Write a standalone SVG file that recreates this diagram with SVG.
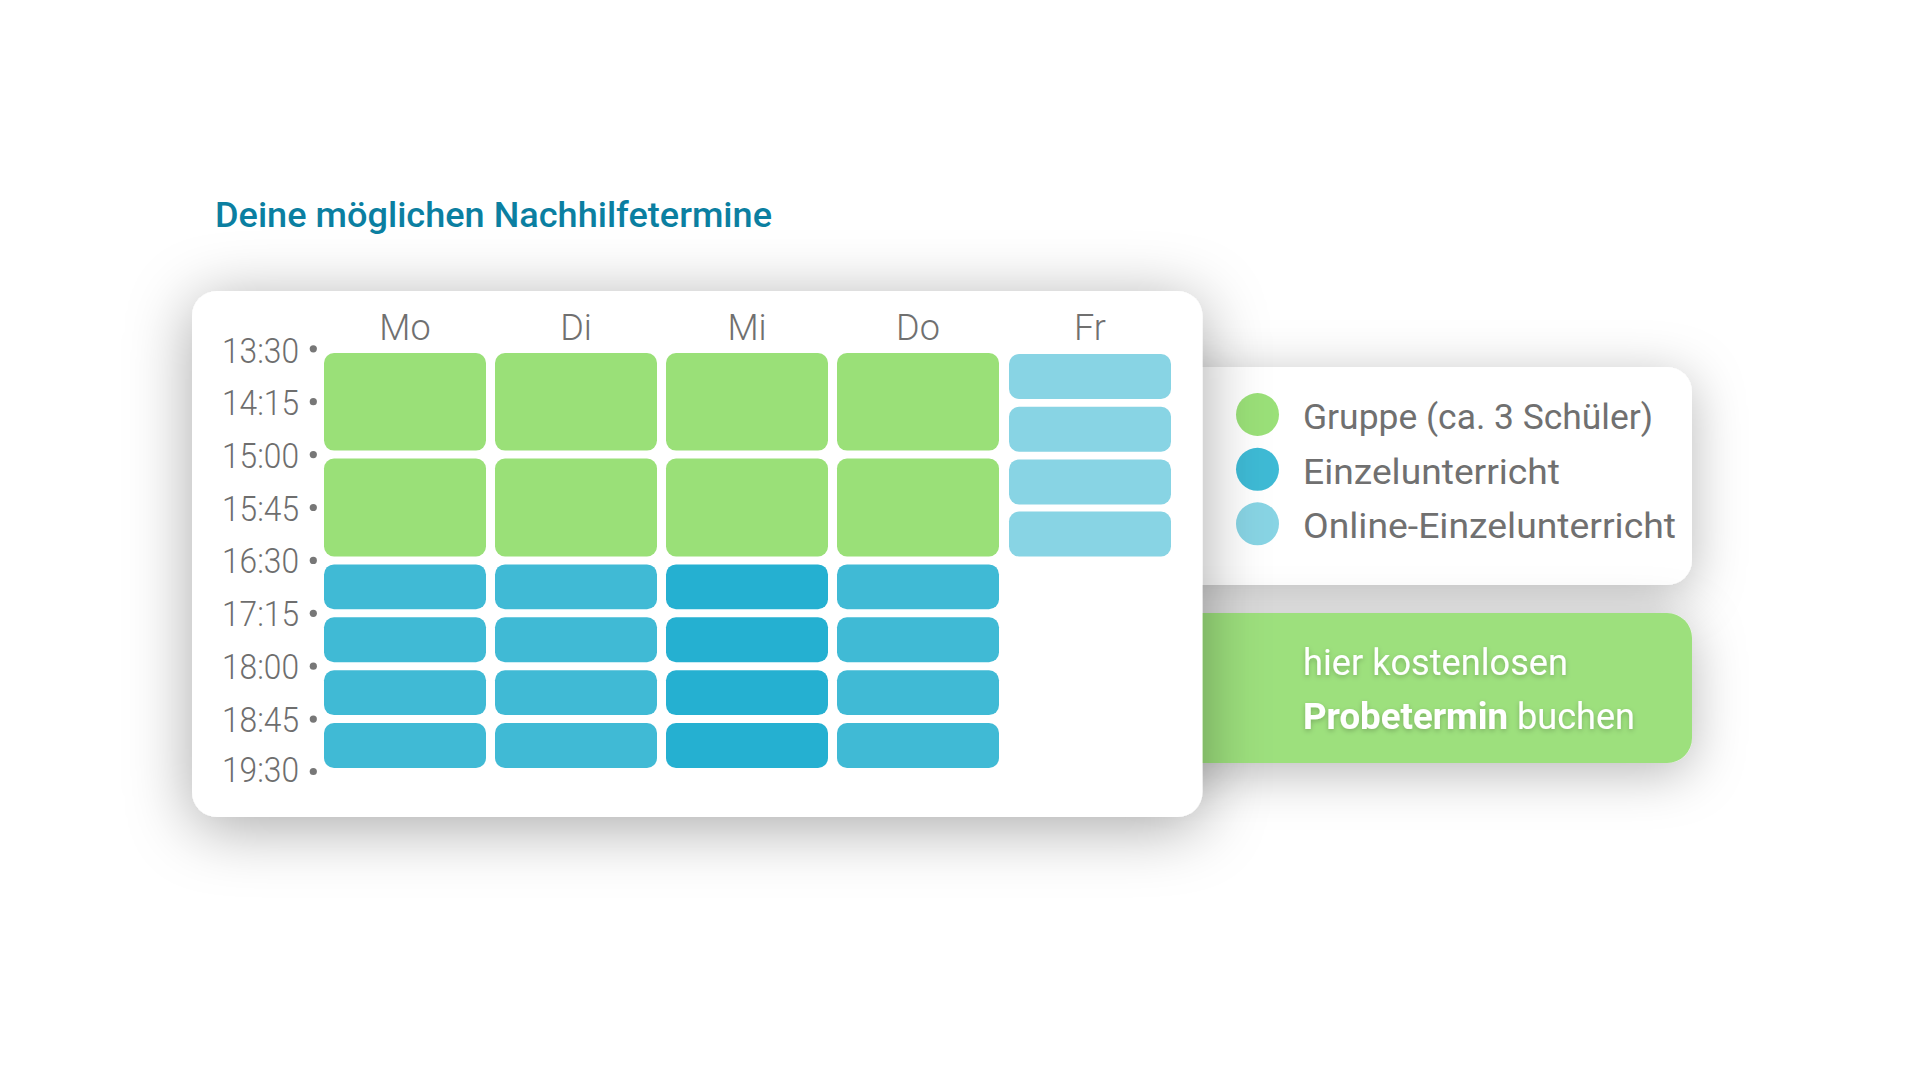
<svg xmlns="http://www.w3.org/2000/svg" width="1920" height="1080" viewBox="0 0 1920 1080">
  <defs>
    <filter id="shadow" x="-30%" y="-50%" width="160%" height="200%">
      <feDropShadow dx="0" dy="10" stdDeviation="32" flood-color="#000" flood-opacity="0.34"/>
    </filter>
    <filter id="shadowSm" x="-30%" y="-80%" width="160%" height="260%">
      <feDropShadow dx="0" dy="10" stdDeviation="26" flood-color="#000" flood-opacity="0.28"/>
    </filter>
    <filter id="txtShadow" x="-10%" y="-40%" width="120%" height="180%">
      <feDropShadow dx="0" dy="2" stdDeviation="2.5" flood-color="#000" flood-opacity="0.22"/>
    </filter>
  </defs>
  <style>
    .title { font-family: "Roboto", "Liberation Sans", sans-serif; font-weight: 500; font-size: 35px; fill: #0B7FA1; }
    .time { font-family: "Roboto", "Liberation Sans", sans-serif; font-weight: 300; font-size: 35px; fill: #6E6E6E; }
    .day { font-family: "Roboto", "Liberation Sans", sans-serif; font-weight: 300; font-size: 36px; fill: #707070; text-anchor: middle; }
    .leg { font-family: "Roboto", "Liberation Sans", sans-serif; font-weight: 400; font-size: 35px; fill: #707070; }
    .btn { font-family: "Roboto", "Liberation Sans", sans-serif; font-weight: 400; font-size: 36px; fill: #FFFFFF; }
    .btnb { font-weight: 700; }
    .dot { fill: #777777; }
    .g { fill: #9AE078; }
    .b { fill: #40BAD5; }
    .bd { fill: #25B0D1; }
    .o { fill: #88D4E4; }
  </style>
  <rect width="1920" height="1080" fill="#FFFFFF"/>

  <text id="title" class="title" x="215" y="227" textLength="557" lengthAdjust="spacingAndGlyphs">Deine möglichen Nachhilfetermine</text>

  <g id="legend">
    <rect x="1140" y="367" width="552" height="218" rx="25" fill="#FFFFFF" filter="url(#shadowSm)"/>
    <circle cx="1257.5" cy="414.5" r="21.5" class="g"/>
    <circle cx="1257.5" cy="469.3" r="21.5" fill="#3EBAD5"/>
    <circle cx="1257.5" cy="523.8" r="21.5" class="o"/>
    <text class="leg" x="1303" y="429" textLength="350" lengthAdjust="spacingAndGlyphs">Gruppe (ca. 3 Schüler)</text>
    <text class="leg" x="1303" y="483.5" textLength="257" lengthAdjust="spacingAndGlyphs">Einzelunterricht</text>
    <text class="leg" x="1303" y="537.5" textLength="373" lengthAdjust="spacingAndGlyphs">Online-Einzelunterricht</text>
  </g>

  <g id="button">
    <rect x="1140" y="613" width="552" height="150" rx="25" fill="#9DE07D" filter="url(#shadowSm)"/>
    <g filter="url(#txtShadow)">
      <text class="btn" x="1303" y="675" textLength="265" lengthAdjust="spacingAndGlyphs">hier kostenlosen</text>
      <text class="btn btnb" x="1303" y="728.5" textLength="205" lengthAdjust="spacingAndGlyphs">Probetermin</text>
      <text class="btn" x="1517" y="728.5" textLength="118" lengthAdjust="spacingAndGlyphs">buchen</text>
    </g>
  </g>

  <g id="schedule">
    <rect x="192" y="291" width="1010.5" height="526" rx="25" fill="#FFFFFF" filter="url(#shadow)"/>

    <g id="days">
      <text class="day" x="405" y="340">Mo</text>
      <text class="day" x="576" y="340">Di</text>
      <text class="day" x="747" y="340">Mi</text>
      <text class="day" x="918" y="340">Do</text>
      <text class="day" x="1090" y="340">Fr</text>
    </g>

    <g id="times">
      <text class="time" x="222" y="362.5" textLength="77" lengthAdjust="spacingAndGlyphs">13:30</text>
      <text class="time" x="222" y="415" textLength="77" lengthAdjust="spacingAndGlyphs">14:15</text>
      <text class="time" x="222" y="467.5" textLength="77" lengthAdjust="spacingAndGlyphs">15:00</text>
      <text class="time" x="222" y="520.5" textLength="77" lengthAdjust="spacingAndGlyphs">15:45</text>
      <text class="time" x="222" y="573" textLength="77" lengthAdjust="spacingAndGlyphs">16:30</text>
      <text class="time" x="222" y="626" textLength="77" lengthAdjust="spacingAndGlyphs">17:15</text>
      <text class="time" x="222" y="679" textLength="77" lengthAdjust="spacingAndGlyphs">18:00</text>
      <text class="time" x="222" y="731.7" textLength="77" lengthAdjust="spacingAndGlyphs">18:45</text>
      <text class="time" x="222" y="782" textLength="77" lengthAdjust="spacingAndGlyphs">19:30</text>
      <circle class="dot" cx="313.3" cy="348.8" r="3.6"/>
      <circle class="dot" cx="313.3" cy="401.7" r="3.6"/>
      <circle class="dot" cx="313.3" cy="454.6" r="3.6"/>
      <circle class="dot" cx="313.3" cy="507.5" r="3.6"/>
      <circle class="dot" cx="313.3" cy="560.4" r="3.6"/>
      <circle class="dot" cx="313.3" cy="613.3" r="3.6"/>
      <circle class="dot" cx="313.3" cy="666.2" r="3.6"/>
      <circle class="dot" cx="313.3" cy="719.1" r="3.6"/>
      <circle class="dot" cx="313.3" cy="771.5" r="3.6"/>
    </g>

    <g id="mo">
      <rect class="g" x="324" y="353" width="162" height="97.6" rx="10"/>
      <rect class="g" x="324" y="458.6" width="162" height="97.8" rx="10"/>
      <rect class="b" x="324" y="564.4" width="162" height="44.9" rx="10"/>
      <rect class="b" x="324" y="617.3" width="162" height="44.9" rx="10"/>
      <rect class="b" x="324" y="670.2" width="162" height="44.9" rx="10"/>
      <rect class="b" x="324" y="723.1" width="162" height="44.9" rx="10"/>
    </g>
    <g id="di">
      <rect class="g" x="495" y="353" width="162" height="97.6" rx="10"/>
      <rect class="g" x="495" y="458.6" width="162" height="97.8" rx="10"/>
      <rect class="b" x="495" y="564.4" width="162" height="44.9" rx="10"/>
      <rect class="b" x="495" y="617.3" width="162" height="44.9" rx="10"/>
      <rect class="b" x="495" y="670.2" width="162" height="44.9" rx="10"/>
      <rect class="b" x="495" y="723.1" width="162" height="44.9" rx="10"/>
    </g>
    <g id="mi">
      <rect class="g" x="666" y="353" width="162" height="97.6" rx="10"/>
      <rect class="g" x="666" y="458.6" width="162" height="97.8" rx="10"/>
      <rect class="bd" x="666" y="564.4" width="162" height="44.9" rx="10"/>
      <rect class="bd" x="666" y="617.3" width="162" height="44.9" rx="10"/>
      <rect class="bd" x="666" y="670.2" width="162" height="44.9" rx="10"/>
      <rect class="bd" x="666" y="723.1" width="162" height="44.9" rx="10"/>
    </g>
    <g id="do">
      <rect class="g" x="837" y="353" width="162" height="97.6" rx="10"/>
      <rect class="g" x="837" y="458.6" width="162" height="97.8" rx="10"/>
      <rect class="b" x="837" y="564.4" width="162" height="44.9" rx="10"/>
      <rect class="b" x="837" y="617.3" width="162" height="44.9" rx="10"/>
      <rect class="b" x="837" y="670.2" width="162" height="44.9" rx="10"/>
      <rect class="b" x="837" y="723.1" width="162" height="44.9" rx="10"/>
    </g>
    <g id="fr">
      <rect class="o" x="1009" y="354" width="162" height="45" rx="10"/>
      <rect class="o" x="1009" y="406.7" width="162" height="45" rx="10"/>
      <rect class="o" x="1009" y="459.4" width="162" height="45" rx="10"/>
      <rect class="o" x="1009" y="511.5" width="162" height="45" rx="10"/>
    </g>
  </g>

  <g id="connectors"/>
</svg>
